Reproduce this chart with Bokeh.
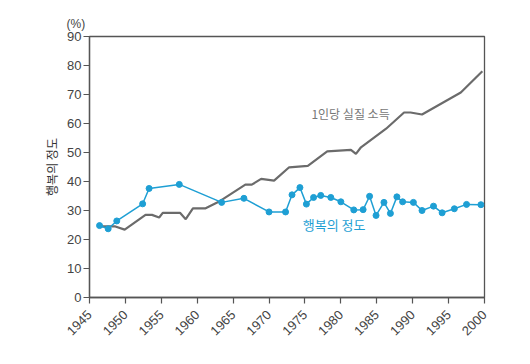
import math
from bokeh.plotting import figure
from bokeh.models import Label, FixedTicker, Range1d, Title
from bokeh.embed import file_html
from bokeh.resources import INLINE

# Data
income_years = [1946.3, 1948.6, 1949.9, 1952.8, 1953.7, 1954.7, 1955.2, 1957.6, 1958.4,
                 1959.4, 1961.1, 1963.2, 1966.7, 1967.6, 1968.9, 1970.7, 1972.8, 1975.4,
                 1978.1, 1981.4, 1982.1, 1982.8, 1986.3, 1988.8, 1989.7, 1991.3, 1996.7, 1999.7]
income_values = [24.5, 24.5, 23.4, 28.5, 28.5, 27.6, 29.2, 29.2, 27.0,
                 30.7, 30.7, 33.3, 38.9, 38.9, 40.9, 40.3, 44.9, 45.4,
                 50.4, 50.9, 49.5, 51.8, 58.2, 63.8, 63.8, 63.1, 70.7, 78.0]

happy_years = [1946.4, 1947.6, 1948.8, 1952.4, 1953.3, 1957.5, 1963.4, 1966.5, 1970.0,
               1972.3, 1973.2, 1974.3, 1975.2, 1976.2, 1977.2, 1978.6, 1980.0, 1981.8,
               1983.1, 1984.0, 1984.9, 1986.0, 1986.9, 1987.8, 1988.6, 1990.1, 1991.3,
               1992.9, 1994.1, 1995.8, 1997.5, 1999.5]
happy_values = [24.8, 23.7, 26.4, 32.3, 37.6, 39.0, 32.8, 34.2, 29.5,
                29.5, 35.4, 37.9, 32.2, 34.5, 35.2, 34.5, 33.0, 30.2,
                30.3, 34.9, 28.3, 32.8, 29.0, 34.7, 33.0, 32.8, 30.0,
                31.5, 29.2, 30.6, 32.1, 32.0]

x_ticks = [1945, 1950, 1955, 1960, 1965, 1970, 1975, 1980, 1985, 1990, 1995, 2000]
y_ticks = [0, 10, 20, 30, 40, 50, 60, 70, 80, 90]

income_label = "1인당 실질 소득"
happy_label = "행복의 정도"
y_title = "행복의 정도"
unit_label = "(%)"

GRAY = "#6b6b6b"
BLUE = "#1e9fd4"
AXIS = "#555555"
TXT = "#444444"
KFONT = "Noto Sans CJK KR"
NFONT = "Liberation Sans"

p = figure(width=514, height=348, output_backend="svg", toolbar_location=None,
           x_range=Range1d(1945, 2000), y_range=Range1d(0, 90),
           min_border_left=89, min_border_right=30, min_border_top=36, min_border_bottom=51)
p.background_fill_color = "white"
p.border_fill_color = "white"
p.outline_line_color = AXIS
p.outline_line_width = 1.3
p.xgrid.visible = False
p.ygrid.visible = False

for ax in (p.xaxis[0], p.yaxis[0]):
    ax.axis_line_color = AXIS
    ax.axis_line_width = 1.3
    ax.major_tick_line_color = AXIS
    ax.major_tick_line_width = 1.2
    ax.major_tick_in = 0
    ax.major_tick_out = 6
    ax.minor_tick_line_color = None
    ax.major_label_text_font = NFONT
    ax.major_label_text_font_size = "13px"
    ax.major_label_text_color = TXT

p.xaxis.ticker = FixedTicker(ticks=x_ticks)
p.yaxis.ticker = FixedTicker(ticks=y_ticks)
p.xaxis.major_label_orientation = math.pi / 4
p.yaxis.major_label_standoff = 2
p.xaxis.major_label_standoff = 9

p.yaxis.axis_label = y_title
p.yaxis.axis_label_text_font = KFONT
p.yaxis.axis_label_text_font_size = "12px"
p.yaxis.axis_label_text_font_style = "normal"
p.yaxis.axis_label_text_color = "#333333"
p.yaxis.axis_label_standoff = 4

p.add_layout(Title(text=unit_label, align="left", offset=-23, text_font=NFONT,
                   text_font_size="12px", text_font_style="normal",
                   text_color=TXT, standoff=12), "above")

p.line(income_years, income_values, line_color=GRAY, line_width=2.2)
p.line(happy_years, happy_values, line_color=BLUE, line_width=1.5)
p.scatter(happy_years, happy_values, size=6, fill_color=BLUE, line_color=BLUE)

p.add_layout(Label(x=1975.9, y=63.6, text=income_label, text_font=KFONT,
                   text_font_size="12px", text_color="#777777",
                   text_baseline="middle", text_align="left"))
p.add_layout(Label(x=1974.7, y=25.2, text=happy_label, text_font=KFONT,
                   text_font_size="13px", text_color=BLUE,
                   text_baseline="middle", text_align="left"))

open("out.html", "w").write(file_html(p, INLINE))
